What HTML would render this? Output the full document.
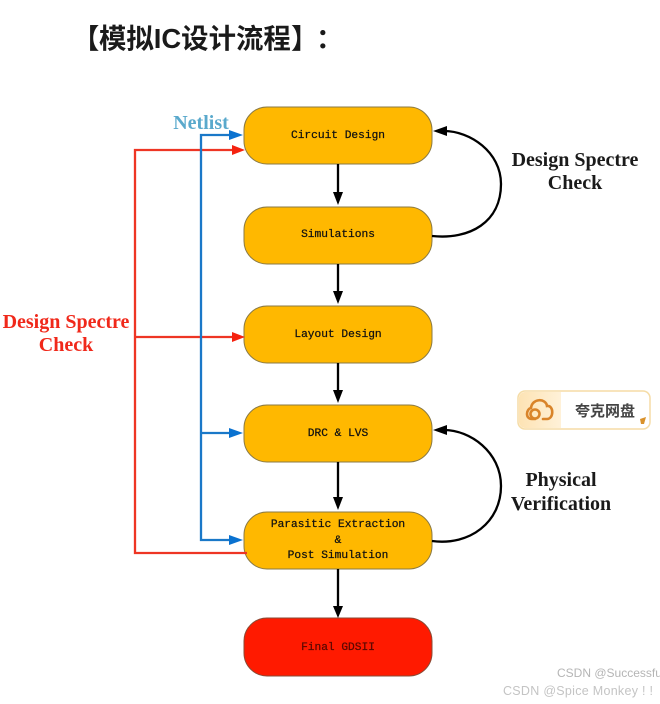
<!DOCTYPE html>
<html><head><meta charset="utf-8"><style>
html,body{margin:0;padding:0;background:#fff;width:660px;height:704px;overflow:hidden}
svg{display:block;filter:blur(.35px)}
.m{font-family:"Liberation Mono",monospace;font-size:11.2px;fill:#111;stroke:#111;stroke-width:.25;text-anchor:middle}
.s{font-family:"Liberation Serif",serif;font-weight:bold;font-size:20px;text-anchor:middle;fill:#1a1a1a}
.t{font-family:"Liberation Sans","Noto Sans CJK SC",sans-serif;font-weight:bold;font-size:27.4px;fill:#1a1a1a}
</style></head><body>
<svg width="660" height="704" viewBox="0 0 660 704" xmlns="http://www.w3.org/2000/svg">
<defs>
<linearGradient id="g" x1="0" x2="1" y1="0" y2="0"><stop offset="0" stop-color="#fde3b4"/><stop offset="1" stop-color="#fff1d8"/></linearGradient>
</defs>
<text class="t" y="48"><tspan x="72">【</tspan><tspan x="99">模拟IC设计流程</tspan><tspan x="291">】</tspan><tspan x="316">：</tspan></text>

<g fill="#ffb800" stroke="#8a7a45" stroke-width="1">
<rect x="244" y="107" width="188" height="57" rx="23"/>
<rect x="244" y="207" width="188" height="57" rx="23"/>
<rect x="244" y="306" width="188" height="57" rx="23"/>
<rect x="244" y="405" width="188" height="57" rx="23"/>
<rect x="244" y="512" width="188" height="57" rx="23"/>
<rect x="244" y="618" width="188" height="58" rx="23" fill="#ff1a00" stroke="#8a4a35"/>
</g>

<g stroke="#000" stroke-width="2.3" fill="none">
<path d="M338 164V195M338 264V294M338 363V393M338 462V500M338 569V606"/>
<path d="M432 236C470 240 501 222 501 184C501 152 470 131 444 131"/>
<path d="M432 541C470 546 501 522 501 486C501 452 470 430 444 430"/>
</g>
<g fill="#000">
<path d="M333 192H343L338 205Z"/><path d="M333 291H343L338 304Z"/><path d="M333 390H343L338 403Z"/><path d="M333 497H343L338 510Z"/><path d="M333 606H343L338 618Z"/>
<path d="M433 131L447 126V136Z"/><path d="M433 430L447 425V435Z"/>
</g>

<g stroke="#ee3524" stroke-width="2.3" fill="none">
<path d="M233 150H135V553H247"/><path d="M135 337H233"/>
</g>
<g fill="#f5220f">
<path d="M232 145L245 150L232 155Z"/><path d="M232 332L245 337L232 342Z"/>
</g>
<g stroke="#1a78c8" stroke-width="2.3" fill="none">
<path d="M232 135H201V540H232"/><path d="M201 433H232"/>
</g>
<g fill="#0a72d0">
<path d="M229 130L243 135L229 140Z"/><path d="M229 428L243 433L229 438Z"/><path d="M229 535L243 540L229 545Z"/>
</g>

<text class="m" x="338" y="138">Circuit Design</text>
<text class="m" x="338" y="237">Simulations</text>
<text class="m" x="338" y="337">Layout Design</text>
<text class="m" x="338" y="436">DRC &amp; LVS</text>
<text class="m" x="338" y="527">Parasitic Extraction</text>
<text class="m" x="338" y="543">&amp;</text>
<text class="m" x="338" y="558">Post Simulation</text>
<text class="m" x="338" y="650" style="fill:#5a0800;stroke:#5a0800">Final GDSII</text>

<text class="s" x="201" y="129" style="fill:#5aa9cc">Netlist</text>
<text class="s" x="575" y="166">Design Spectre</text>
<text class="s" x="575" y="189">Check</text>
<text class="s" x="66" y="328" style="fill:#f0281a">Design Spectre</text>
<text class="s" x="66" y="351" style="fill:#f0281a">Check</text>
<text class="s" x="561" y="486">Physical</text>
<text class="s" x="561" y="510">Verification</text>

<rect x="518" y="391" width="132" height="38" rx="7" fill="#fff" stroke="#f5dca6" stroke-width="1.5"/>
<path d="M519 398a6 6 0 0 1 6-6H561V428H525a6 6 0 0 1-6-6Z" fill="url(#g)"/>
<g fill="none" stroke="#d9842a" stroke-width="2.6" stroke-linecap="round">
<path d="M535 419H532C525 419 526 409 531 408C532 398 546 398 547 406C554 405 554 419 547 419H543"/>
<circle cx="535" cy="414" r="4.5"/>
</g>
<text x="575" y="416" font-family="'Liberation Sans','Noto Sans CJK SC',sans-serif" font-weight="bold" font-size="15" fill="#444">夸克网盘</text>
<path d="M640 419L646 417L644 424L641 424Z" fill="#d9912a"/>

<text x="557" y="677" font-family="'Liberation Sans',sans-serif" font-size="12" fill="#b5b5b5">CSDN @Successful</text>
<text x="503" y="695" font-family="'Liberation Sans',sans-serif" font-size="12.5" fill="#c4c4c4" textLength="150">CSDN @Spice Monkey ! !</text>
</svg>
</body></html>
